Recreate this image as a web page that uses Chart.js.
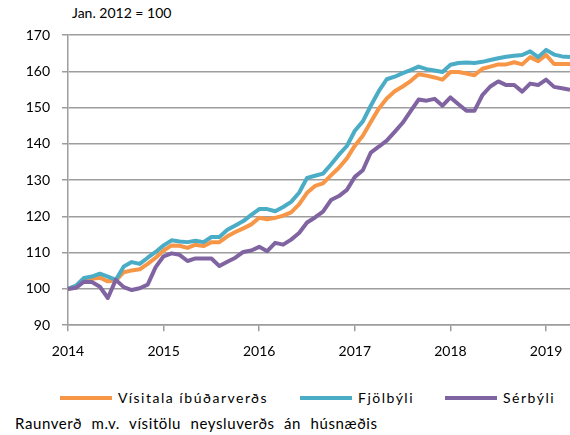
<!DOCTYPE html>
<html>
<head>
<meta charset="utf-8">
<script src="https://cdn.jsdelivr.net/npm/chart.js@4.4.1/dist/chart.umd.min.js"></script>
<style>
  body { margin: 0; background: #fff; font-family: Lato, sans-serif; color: #000; }
  #wrap { position: relative; width: 570px; height: 435px; }
  #chartbox { position: absolute; left: 0; top: 0; width: 570px; height: 372px; }
  .note { position: absolute; font-size: 14px; white-space: nowrap; }
  .leg { position: absolute; top: 389px; display: flex; align-items: center; font-size: 14px; letter-spacing: 1.5px; white-space: nowrap; }
  .leg span.ln { display: inline-block; width: 52px; height: 4px; margin-right: 6px; }
</style>
</head>
<body>
<div id="wrap">
  <div class="note" style="left:72px; top:4px;">Jan. 2012 = 100</div>
  <div id="chartbox"><canvas id="grafik"></canvas></div>
  <div class="note" style="left:15px; top:414px; font-size:15px; word-spacing:5px; letter-spacing:0.6px;">Raunverð m.v. vísitölu neysluverðs án húsnæðis</div>
</div>
<script>
// tick labels (years) and monthly categories, Jan 2014 - Apr 2019
var years = ['2014', '2015', '2016', '2017', '2018', '2019'];
var months = [];
years.forEach(function (y) {
    for (var m = 1; m <= 12; m++) months.push(y + '-' + (m < 10 ? '0' + m : m));
});
months = months.slice(0, 64);

var seriesNames = ['Vísitala íbúðarverðs', 'Fjölbýli', 'Sérbýli'];
var seriesColors = ['#F79646', '#4BACC6', '#8064A2'];

var visitala = [100, 100.6, 102.3, 102.8, 103.1, 102.1, 102.3, 104.6, 105.1, 105.4, 106.9, 108.6,
    110.6, 112, 111.9, 111.3, 112.2, 111.8, 112.9, 112.9, 114.5, 115.7, 116.7, 117.8,
    119.6, 119.2, 119.6, 120.2, 121.1, 123.3, 126.5, 128.4, 129.1, 131.3, 133.4, 136,
    139.5, 142.2, 146, 149.7, 152.5, 154.5, 155.8, 157.3, 159.2, 158.8, 158.3, 157.7,
    159.8, 159.8, 159.4, 158.9, 160.7, 161.3, 161.9, 161.9, 162.5, 161.9, 163.9, 162.8,
    164.5, 162, 162, 162];

var fjolbyli = [100, 100.9, 103, 103.4, 104.2, 103.4, 102.5, 106.2, 107.4, 106.9, 108.6, 110.2,
    112, 113.4, 113.1, 112.9, 113.3, 112.9, 114.3, 114.3, 116.3, 117.5, 118.7, 120.4,
    122, 122, 121.4, 122.6, 124, 126.5, 130.6, 131.2, 131.8, 134.3, 137, 139.4,
    143.6, 146.2, 150.5, 154.5, 157.8, 158.5, 159.5, 160.3, 161.3, 160.6, 160.2, 159.8,
    161.8, 162.3, 162.4, 162.3, 162.6, 163.1, 163.6, 164, 164.3, 164.5, 165.5, 163.9,
    165.9, 164.6, 164.1, 163.9];

var serbyli = [100, 100.3, 102, 101.9, 100.6, 97.5, 102.5, 100.5, 99.7, 100.2, 101.2, 106,
    109, 109.8, 109.4, 107.7, 108.4, 108.4, 108.4, 106.3, 107.5, 108.6, 110.2, 110.6,
    111.6, 110.4, 112.7, 112.2, 113.6, 115.4, 118.3, 119.7, 121.3, 124.5, 125.6, 127.3,
    130.9, 132.7, 137.6, 139.2, 140.9, 143.3, 145.8, 149, 152.2, 151.9, 152.4, 150.5,
    152.8, 150.9, 149.1, 149.1, 153.4, 155.8, 157.2, 156.2, 156.2, 154.4, 156.6, 156.2,
    157.7, 155.7, 155.3, 154.9];

var gridColor = '#9d9d9d';
var allSeries = [visitala, fjolbyli, serbyli];

var chart = new Chart('grafik', {
    type: 'line',
    data: {
        labels: months,
        datasets: allSeries.map(function (d, i) {
            return {
                label: seriesNames[i],
                data: d,
                borderColor: seriesColors[i],
                backgroundColor: seriesColors[i],
                borderWidth: 4,
                pointRadius: 0,
                tension: 0,
                borderJoinStyle: 'round',
                order: 3 - i
            };
        })
    },
    options: {
        responsive: true,
        maintainAspectRatio: false,
        animation: false,
        layout: { padding: { top: 35, left: 15, right: 0, bottom: 0 } },
        plugins: { legend: { display: false }, tooltip: { enabled: false } },
        scales: {
            x: {
                afterFit: function (s) { s.paddingRight = 0; s.paddingLeft = 0; },
                grid: {
                    drawOnChartArea: false,
                    tickLength: 6,
                    lineWidth: 1.5,
                    color: function (ctx) { return ctx.index % 12 === 0 ? gridColor : 'rgba(0,0,0,0)'; }
                },
                border: { color: gridColor, width: 1.5 },
                ticks: {
                    autoSkip: false,
                    maxRotation: 0,
                    minRotation: 0,
                    padding: 12,
                    color: '#000',
                    font: { family: 'Lato', size: 14 },
                    callback: function (v, i) { return i % 12 === 0 ? years[i / 12] : ''; }
                }
            },
            y: {
                min: 90,
                max: 170,
                afterFit: function (s) { s.width = 53; },
                grid: { color: gridColor, lineWidth: 1.5, tickLength: 6 },
                border: { color: gridColor, width: 1.5 },
                ticks: {
                    stepSize: 10,
                    padding: 12,
                    color: '#000',
                    font: { family: 'Lato', size: 14 }
                }
            }
        }
    }
});

// legend below the chart
var legendLeft = [60, 300, 445];
seriesNames.forEach(function (n, i) {
    var el = document.createElement('div');
    el.className = 'leg';
    el.style.left = legendLeft[i] + 'px';
    el.innerHTML = '<span class="ln" style="background:' + seriesColors[i] + '"></span>' + n;
    document.getElementById('wrap').appendChild(el);
});
</script>
</body>
</html>
